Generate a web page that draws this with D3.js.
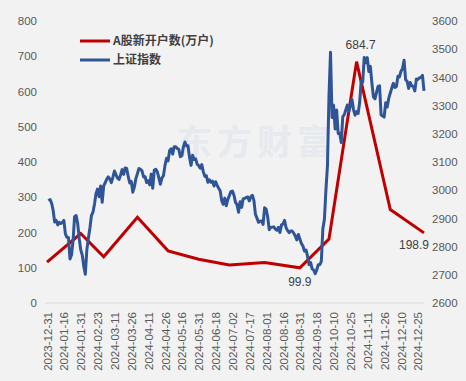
<!DOCTYPE html>
<html>
<head>
<meta charset="utf-8">
<script src="https://cdn.jsdelivr.net/npm/d3@7"></script>
<style>
  body { margin: 0; background: #f2f2f2; }
  text { font-family: "Liberation Sans", Arial, sans-serif; }
</style>
</head>
<body>
<div id="chart"></div>
<script>
// x axis tick labels (every 11th category)
var tickLabels = ["2023-12-31", "2024-01-16", "2024-01-31", "2024-02-23", "2024-03-11", "2024-03-26",
  "2024-04-11", "2024-04-26", "2024-05-16", "2024-05-31", "2024-06-18", "2024-07-02", "2024-07-17",
  "2024-08-01", "2024-08-16", "2024-08-31", "2024-09-18", "2024-10-10", "2024-10-25", "2024-11-11",
  "2024-11-26", "2024-12-10", "2024-12-25"];

// weekdays the market was closed in 2024
var holidays = ["2024-01-01", "2024-02-09", "2024-02-12", "2024-02-13", "2024-02-14", "2024-02-15",
  "2024-02-16", "2024-04-04", "2024-04-05", "2024-05-01", "2024-05-02", "2024-05-03", "2024-06-10",
  "2024-09-16", "2024-09-17", "2024-10-01", "2024-10-02", "2024-10-03", "2024-10-04", "2024-10-07"];

// A股新开户数(万户), monthly
var accountDates = ["2023-12-31", "2024-01-31", "2024-02-29", "2024-03-31", "2024-04-30", "2024-05-31",
  "2024-06-30", "2024-07-31", "2024-08-31", "2024-09-30", "2024-10-31", "2024-11-30", "2024-12-31"];
var accountValues = [116, 197, 131, 243, 148, 124, 108, 115, 99.9, 181.6, 684.7, 265, 198.9];

// 上证指数 daily close, one value per trading day of 2024
var shIndex = [
  2962, 2967, 2954, 2929, 2887, 2893, 2877, 2886, 2882, 2886, 2893, 2845, 2833, 2832, 2756, 2770, 2820, 2906, 2910, 2883, 2830, 2789,
  2770, 2730, 2702, 2789, 2829, 2866, 2910, 2922, 2951, 2988, 3004, 2977, 3015, 2957, 3015,
  3027, 3039, 3047, 3039, 3027, 3046, 3068, 3055, 3043, 3038, 3054, 3073, 3056, 3079, 3077, 3048, 3026, 3031, 2993, 3011, 3041,
  3077, 3074, 3069, 3047, 3048, 3027, 3034, 3019, 3057, 3007, 3071, 3074, 3065, 3044, 3021, 3044, 3052, 3088, 3113, 3104,
  3140, 3147, 3128, 3154, 3154, 3148, 3145, 3119, 3122, 3154, 3171, 3157, 3158, 3116, 3088, 3124, 3109, 3111, 3092, 3087,
  3078, 3091, 3065, 3049, 3051, 3028, 3037, 3028, 3032, 3015, 3030, 3018, 3007, 2998, 2963, 2950, 2972, 2945, 2967,
  2995, 2997, 2982, 2957, 2949, 2922, 2959, 2939, 2970, 2971, 2974, 2976, 2962, 2977, 2982, 2964, 2915, 2901, 2886, 2890, 2891, 2879, 2938,
  2932, 2905, 2860, 2868, 2869, 2870, 2862, 2858, 2868, 2850, 2877, 2880, 2893, 2867, 2857, 2849, 2855, 2855, 2848, 2837, 2824, 2843,
  2811, 2802, 2784, 2788, 2766, 2736, 2744, 2721, 2717, 2704, 2717, 2736, 2736, 2748, 2863, 2896, 3000, 3087, 3336,
  3489, 3258, 3301, 3217, 3284, 3201, 3202, 3169, 3261, 3268, 3285, 3302, 3280, 3300, 3322, 3286, 3266, 3279,
  3272, 3310, 3387, 3383, 3471, 3452, 3470, 3421, 3439, 3380, 3331, 3324, 3346, 3368, 3370, 3267, 3263, 3259, 3310, 3295, 3326,
  3363, 3379, 3364, 3368, 3404, 3402, 3422, 3432, 3461, 3392, 3386, 3361, 3382, 3370, 3368, 3352, 3394, 3393, 3398, 3400, 3407, 3352
];

var W = 466, H = 381;
var margin = {left: 47, right: 424, top: 21, bottom: 303};
var fmt = d3.timeFormat("%Y-%m-%d");

// trading days of 2024
var tradingDays = d3.timeDay.range(new Date(2024, 0, 1), new Date(2025, 0, 1))
  .filter(function(d) { return d.getDay() != 0 && d.getDay() != 6; })
  .map(fmt)
  .filter(function(s) { return holidays.indexOf(s) < 0; });

// category axis = trading days plus month-end dates
var categories = Array.from(new Set(tradingDays.concat(accountDates))).sort();

var svg = d3.select("#chart").append("svg")
  .attr("width", W)
  .attr("height", H);

svg.append("rect").attr("width", W).attr("height", H).attr("fill", "#f2f2f2");

var x = d3.scalePoint().domain(categories).range([margin.left, margin.right]);
var yL = d3.scaleLinear().domain([0, 800]).range([margin.bottom, margin.top]);
var yR = d3.scaleLinear().domain([2600, 3600]).range([margin.bottom, margin.top]);

// watermark
svg.append("text")
  .attr("x", 177).attr("y", 155)
  .style("font-family", "'Noto Sans CJK SC'")
  .style("font-weight", "bold")
  .style("font-size", "35px")
  .style("letter-spacing", "5px")
  .attr("fill", "#e6e9ed")
  .text("东方财富");

// baseline
svg.append("line")
  .attr("x1", margin.left - 2).attr("x2", margin.right)
  .attr("y1", margin.bottom).attr("y2", margin.bottom)
  .attr("stroke", "#d9d9d9");

var yAxisL = d3.axisLeft(yL).tickValues(d3.range(0, 801, 100)).tickSize(0).tickPadding(10);
var yAxisR = d3.axisRight(yR).tickValues(d3.range(2600, 3601, 100)).tickSize(0).tickPadding(8)
  .tickFormat(d3.format("d"));
var xAxis = d3.axisBottom(x).tickValues(tickLabels).tickSize(0);

var gl = svg.append("g").attr("transform", "translate(" + margin.left + ",0)").call(yAxisL);
var gr = svg.append("g").attr("transform", "translate(" + margin.right + ",0)").call(yAxisR);
var gx = svg.append("g").attr("transform", "translate(0," + margin.bottom + ")").call(xAxis);

gl.select(".domain").remove();
gr.select(".domain").remove();
gx.select(".domain").remove();

svg.selectAll(".tick text")
  .attr("fill", "#595959")
  .style("font-size", "11.5px");

gx.selectAll(".tick text")
  .attr("transform", "rotate(-90)")
  .attr("text-anchor", "end")
  .attr("x", -9)
  .attr("y", 0)
  .attr("dy", "0.35em");

// new accounts line
var accLine = d3.line()
  .x(function(d, i) { return x(accountDates[i]); })
  .y(function(d) { return yL(d); });

svg.append("path")
  .datum(accountValues)
  .attr("d", accLine)
  .attr("fill", "none")
  .attr("stroke", "#c00000")
  .attr("stroke-width", 3);

// index line
var shLine = d3.line()
  .x(function(d, i) { return x(tradingDays[i]); })
  .y(function(d) { return yR(d); });

svg.append("path")
  .datum(shIndex)
  .attr("d", shLine)
  .attr("fill", "none")
  .attr("stroke", "#2f5597")
  .attr("stroke-width", 3)
  .attr("stroke-linejoin", "round");

// data labels
var labelIdx = [8, 10, 12];
var labelOff = [[0, 18], [4, -13], [-10, 16]];
svg.selectAll(".dlabel")
  .data(labelIdx)
  .enter()
  .append("text")
  .attr("class", "dlabel")
  .attr("x", function(d, i) { return x(accountDates[d]) + labelOff[i][0]; })
  .attr("y", function(d, i) { return yL(accountValues[d]) + labelOff[i][1]; })
  .attr("text-anchor", "middle")
  .attr("fill", "#404040")
  .style("font-size", "12px")
  .text(function(d) { return accountValues[d]; });

// legend
var legend = [["A股新开户数(万户)", "#c00000"], ["上证指数", "#2f5597"]];
var lg = svg.selectAll(".legend")
  .data(legend)
  .enter()
  .append("g")
  .attr("transform", function(d, i) { return "translate(80," + (41 + i * 19) + ")"; });

lg.append("line")
  .attr("x1", 0).attr("x2", 30)
  .attr("stroke", function(d) { return d[1]; })
  .attr("stroke-width", 3);

lg.append("text")
  .attr("x", 33)
  .attr("dy", "0.35em")
  .style("font-family", "'Noto Sans CJK SC'")
  .style("font-size", "12px")
  .style("font-weight", "bold")
  .attr("fill", "#404040")
  .text(function(d) { return d[0]; });
</script>
</body>
</html>
